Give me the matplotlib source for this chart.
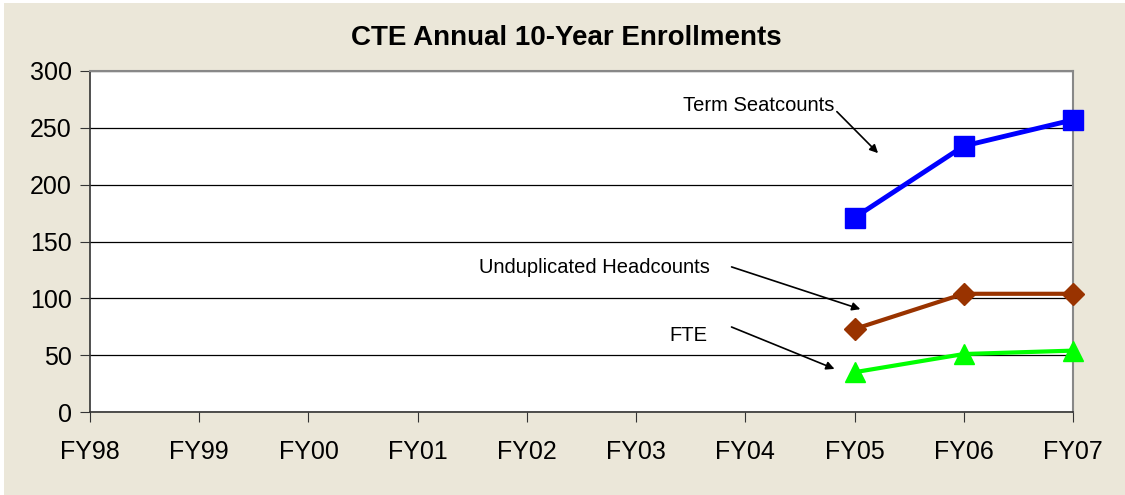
import matplotlib
matplotlib.use('Agg')
import matplotlib.pyplot as plt
from matplotlib.patches import Rectangle
import numpy as np

plt.rcParams['font.family'] = ['Liberation Sans', 'DejaVu Sans']

years = ['FY98', 'FY99', 'FY00', 'FY01', 'FY02', 'FY03', 'FY04', 'FY05', 'FY06', 'FY07']
seatcounts = [None] * 7 + [171, 234, 257]
headcounts = [None] * 7 + [73, 104, 104]
fte = [None] * 7 + [35, 51, 54]

def to_arr(vals):
    return np.array([np.nan if v is None else v for v in vals], dtype=float)

x = np.arange(len(years))

W, H = 1125, 495
fig = plt.figure(figsize=(W / 100, H / 100), dpi=100)
fig.patch.set_facecolor('white')
# beige chart area, leaving a thin white strip at top and left
fig.patches.append(Rectangle((4 / W, -0.1), 1.1, 1.1 - 3 / H, transform=fig.transFigure,
                             facecolor='#ebe7d9', edgecolor='none', zorder=-5))
ax = fig.add_axes([90 / W, 1 - 412 / H, 983 / W, 341 / H])
ax.set_facecolor('white')

ax.plot(x, to_arr(seatcounts), color='#0000ff', lw=3.5, marker='s', ms=14, zorder=3, clip_on=False)
ax.plot(x, to_arr(headcounts), color='#993300', lw=3, marker='D', ms=11, zorder=3, clip_on=False)
ax.plot(x, to_arr(fte), color='#00ff00', lw=3, marker='^', ms=15, zorder=3, clip_on=False)

ax.set_xlim(0, 9)
ax.set_ylim(0, 300)
ax.set_yticks(range(0, 301, 50))
ax.set_xticks(x)
ax.set_xticklabels(years)
ax.tick_params(axis='both', labelsize=18, direction='out', length=7, color='#333333')
ax.tick_params(axis='x', pad=13)
ax.tick_params(axis='y', pad=6)
ax.yaxis.grid(True, color='black', lw=0.9)
ax.set_axisbelow(True)
for s in ['top', 'right']:
    ax.spines[s].set_color('#888888')
    ax.spines[s].set_linewidth(1.5)
for s in ['left', 'bottom']:
    ax.spines[s].set_color('#333333')
    ax.spines[s].set_linewidth(1.2)

fig.text(566 / W, 1 - 38 / H, 'CTE Annual 10-Year Enrollments', fontsize=20,
         fontweight='bold', ha='center', va='center')

arrow = dict(arrowstyle='-|>', color='black', lw=1.2, mutation_scale=12)
ax.text(6.125, 270, 'Term Seatcounts', fontsize=14.5, ha='center', va='center')
ax.annotate('', xy=(7.233, 226), xytext=(6.82, 266), arrowprops=arrow)
ax.text(4.614, 126.7, 'Unduplicated Headcounts', fontsize=14.5, ha='center', va='center')
ax.annotate('', xy=(7.077, 89.7), xytext=(5.85, 128.4), arrowprops=arrow)
ax.text(5.475, 67.7, 'FTE', fontsize=14.5, ha='center', va='center')
ax.annotate('', xy=(6.84, 37), xytext=(5.85, 75.7), arrowprops=arrow)

fig.savefig('out.png', dpi=100)
